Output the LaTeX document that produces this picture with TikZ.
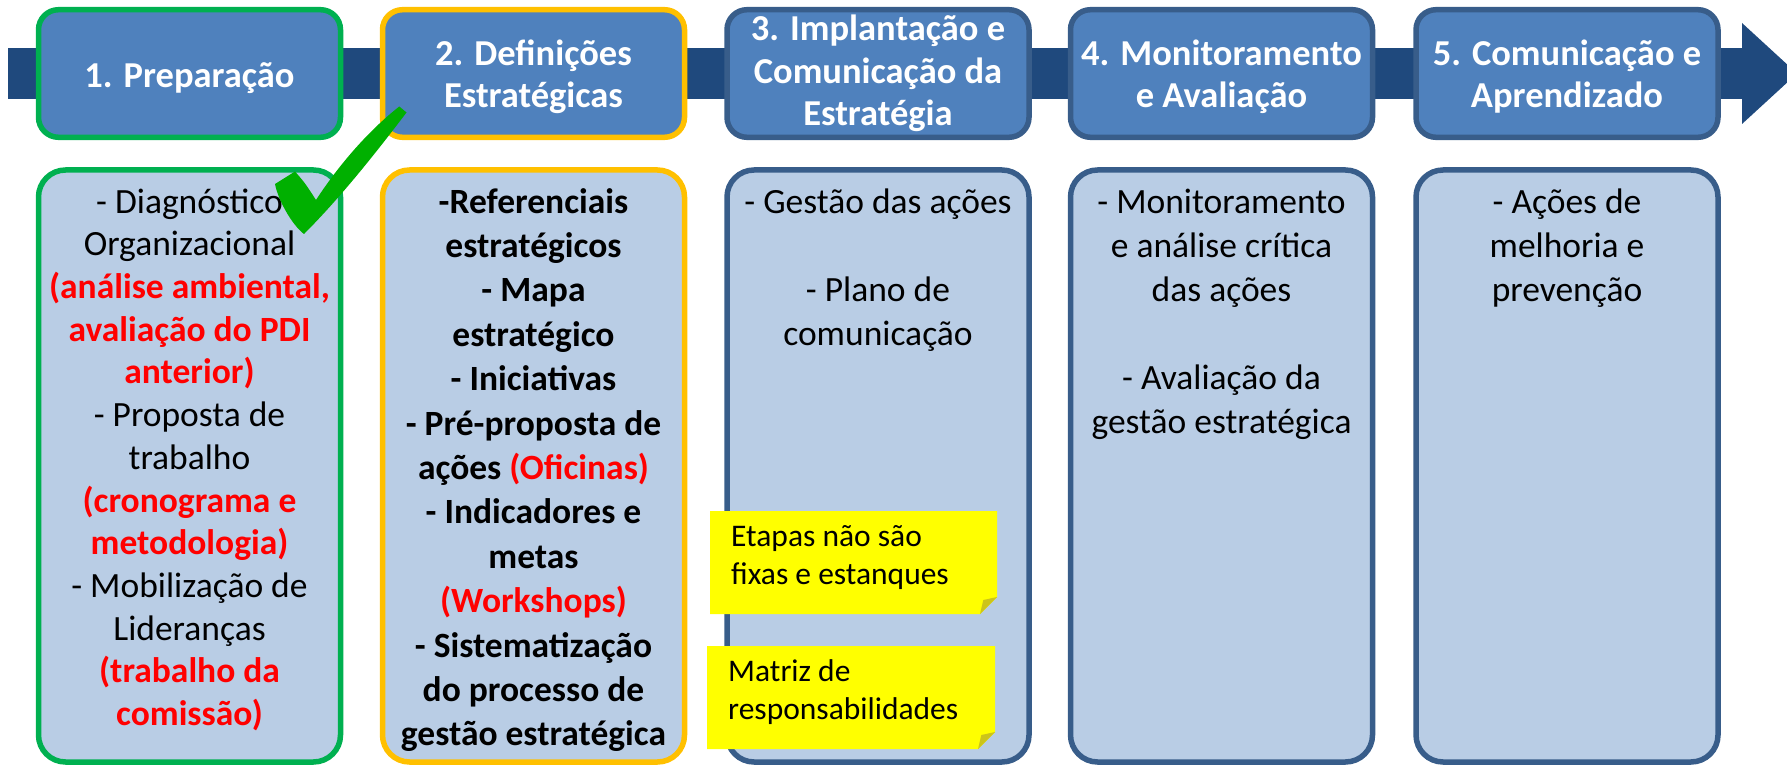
\documentclass[tikz,border=0pt]{standalone}
\usepackage{fontspec}
\setmainfont{Carlito}
\definecolor{band}{HTML}{1F497D}
\definecolor{topfill}{HTML}{4F81BD}
\definecolor{lowfill}{HTML}{B9CDE5}
\definecolor{blueedge}{HTML}{385D8A}
\definecolor{greenedge}{HTML}{00B050}
\definecolor{orangeedge}{HTML}{FFC000}
\definecolor{checkgreen}{HTML}{00B000}
\definecolor{redtext}{HTML}{FF0000}
\definecolor{notefill}{HTML}{FFFF00}
\definecolor{notefold}{HTML}{CCC41A}
\newcommand{\rd}[1]{\textcolor{redtext}{\bfseries #1}}
\begin{document}
\begin{tikzpicture}[x=1pt,y=-1pt,
 topbox/.style={draw=blueedge, fill=topfill, line width=5.5pt, rounded corners=20pt,
   minimum width=302pt, minimum height=127.6pt, inner sep=0pt},
 lowbox/.style={draw=blueedge, fill=lowfill, line width=5.5pt, rounded corners=27pt,
   minimum width=302pt, minimum height=592pt, inner sep=0pt},
 headtxt/.style={text=white, font=\fontsize{36.5}{42.5}\selectfont\bfseries, align=center,
   inner sep=0pt, anchor=north},
 bodytxt/.style={text=black, font=\fontsize{35.5}{42.7}\selectfont, align=center,
   inner sep=0pt, anchor=north},
 bodywide/.style={text=black, font=\fontsize{35.5}{44}\selectfont, align=center,
   inner sep=0pt, anchor=north},
 notetxt/.style={text=black, font=\fontsize{31.5}{38}\selectfont, align=left,
   inner sep=0pt, anchor=north west},
]
\useasboundingbox (0,0) rectangle (1787,767);
% arrow band
\fill[band] (8,48) rectangle (1742,99);
\fill[band] (1742,23) -- (1797,73.5) -- (1742,124) -- cycle;
% header boxes
\node[topbox, draw=greenedge] (top1) at (189.5,73.5) {};
\node[topbox, draw=orangeedge] (top2) at (533.5,73.5) {};
\node[topbox] (top3) at (878,73.5) {};
\node[topbox] (top4) at (1221.5,73.5) {};
\node[topbox] (top5) at (1567,73.5) {};
% lower boxes
\node[lowbox, draw=greenedge] (low1) at (189.5,466) {};
\node[lowbox, draw=orangeedge] (low2) at (533.5,466) {};
\node[lowbox] (low3) at (878,466) {};
\node[lowbox] (low4) at (1221.5,466) {};
\node[lowbox] (low5) at (1567,466) {};
% header texts
\node[headtxt] (h1) at (189.5,57.5) {\strut 1. Preparação};
\node[headtxt] (h2) at (533.5,35.3) {\strut 2. Definições\\Estratégicas};
\node[headtxt] (h3) at (878,11) {\strut 3. Implantação e\\Comunicação da\\Estratégia};
\node[headtxt] (h4) at (1221.5,35.3) {\strut 4. Monitoramento\\e Avaliação};
\node[headtxt] (h5) at (1567,35.3) {\strut 5. Comunicação e\\Aprendizado};
% body texts
\node[bodytxt] (t1) at (189.5,183.1) {\strut - Diagnóstico\\Organizacional\\\rd{(análise ambiental,}\\\rd{avaliação do PDI}\\\rd{anterior)}\\- Proposta de\\trabalho\\\rd{(cronograma e}\\\rd{metodologia)}\\- Mobilização de\\Lideranças\\\rd{(trabalho da}\\\rd{comissão)}};
\node[bodytxt, font=\fontsize{35.5}{44.4}\selectfont\bfseries] (t2) at (533.5,181.9) {\strut -Referenciais\\estratégicos\\- Mapa\\estratégico\\- Iniciativas\\- Pré-proposta de\\ações \rd{(Oficinas)}\\- Indicadores e\\metas\\\rd{(Workshops)}\\- Sistematização\\do processo de\\gestão estratégica};
\node[bodywide] (t3) at (878,182.2) {\strut - Gestão das ações\\[44pt]- Plano de\\comunicação};
\node[bodywide] (t4) at (1221.5,182.2) {\strut - Monitoramento\\e análise crítica\\das ações\\[44pt]- Avaliação da\\gestão estratégica};
\node[bodywide] (t5) at (1567,182.2) {\strut - Ações de\\melhoria e\\prevenção};
% sticky notes
\fill[notefill] (710,511) -- (997,511) -- (997,597) -- (980,614) -- (710,614) -- cycle;
\fill[notefold] (980,614) -- (983.3,600) -- (997,597) -- cycle;
\node[notetxt] (n1) at (731,519.4) {\strut Etapas não são\\fixas e estanques};
\fill[notefill] (707,646) -- (995,646) -- (995,732) -- (978,749) -- (707,749) -- cycle;
\fill[notefold] (978,749) -- (981.3,735) -- (995,732) -- cycle;
\node[notetxt] (n2) at (728,654.4) {\strut Matriz de\\responsabilidades};
% check mark
\fill[checkgreen] (275,184) -- (295,171.5) .. controls (305,183) .. (316,200)
  .. controls (342,160) and (373,127) .. (399.3,106.5) -- (406.5,112.5)
  .. controls (378,150) and (342,196) .. (304,234)
  .. controls (292,225) and (278,200) .. cycle;
\end{tikzpicture}
\end{document}
